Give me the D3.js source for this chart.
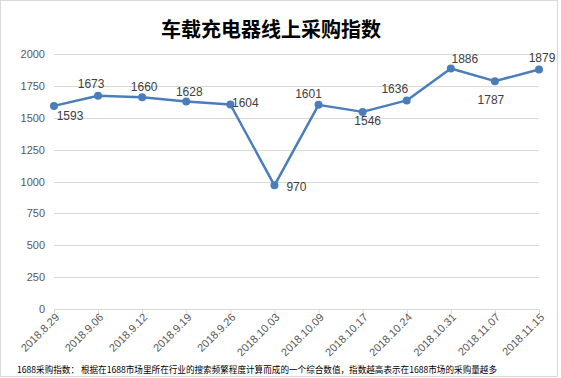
<!DOCTYPE html>
<html><head><meta charset="utf-8">
<script src="https://cdn.jsdelivr.net/npm/d3@7/dist/d3.min.js"></script>
<style>body{margin:0;background:#fff}svg{display:block}</style>
</head><body>
<script>
const title = "车载充电器线上采购指数";
const categories = ["2018.8.29","2018.9.06","2018.9.12","2018.9.19","2018.9.26","2018.10.03","2018.10.09","2018.10.17","2018.10.24","2018.10.31","2018.11.07","2018.11.15"];
const values = [1593,1673,1660,1628,1604,970,1601,1546,1636,1886,1787,1879];
const yTicks = [0,250,500,750,1000,1250,1500,1750,2000];
const footnote = "1688采购指数：  根据在1688市场里所在行业的搜索频繁程度计算而成的一个综合数值，指数越高表示在1688市场的采购量越多";
// label placement (style): offset of label center from point
const labelOffsets = [[16,10],[-7,-12],[2,-11],[3,-10],[15,-2],[22,1],[-10,-11],[5,9],[-12,-12],[14,-10],[-4,19],[3,-12]];

const W = 561, H = 378;
const svg = d3.select("body").append("svg").attr("width", W).attr("height", H);
const font = "'Liberation Sans','DejaVu Sans',Arial,sans-serif";

svg.append("rect").attr("x",0.5).attr("y",0.5).attr("width",557).attr("height",376)
  .attr("fill","#fff").attr("stroke","#d9d9d9");

const x = d3.scalePoint().domain(categories).range([54, 539]);
const y = d3.scaleLinear().domain([0, 2000]).range([309, 54]);

svg.append("text").attr("x", 271).attr("y", 37).attr("text-anchor","middle")
  .attr("font-family","'Noto Sans CJK SC',sans-serif").attr("font-weight","bold")
  .attr("font-size", 20).attr("fill","#000").text(title);

// gridlines
svg.append("g").selectAll("line").data(yTicks.filter(d=>d>0)).join("line")
  .attr("x1",54).attr("x2",539).attr("y1",d=>Math.round(y(d))+0.5).attr("y2",d=>Math.round(y(d))+0.5)
  .attr("stroke","#d9d9d9").attr("stroke-width",1);

// y axis labels
const yAxis = d3.axisLeft(y).tickValues(yTicks).tickFormat(d3.format("d")).tickSize(0).tickPadding(0);
const gy = svg.append("g").attr("transform","translate(45,0)").call(yAxis);
gy.select(".domain").remove();
gy.selectAll("text").attr("font-family",font).attr("font-size",11).attr("fill","#595959");

// x axis
const xAxis = d3.axisBottom(x).tickSize(5).tickSizeOuter(0).tickFormat("");
const gx = svg.append("g").attr("transform",`translate(0,${Math.round(y(0))+0.5})`).call(xAxis);
gx.select(".domain").attr("stroke","#d9d9d9").attr("d","M54,0H539");
gx.selectAll(".tick line").attr("stroke","#d9d9d9");
svg.append("g").selectAll("text").data(categories).join("text")
  .attr("transform", d => `translate(${x(d)+6},${Math.round(y(0))+9}) rotate(-45)`)
  .attr("text-anchor","end").attr("font-family",font).attr("font-size",11)
  .attr("fill","#595959").text(d=>d);

// line
const line = d3.line().x((d,i)=>x(categories[i])).y(d=>y(d));
svg.append("path").datum(values).attr("d", line).attr("fill","none")
  .attr("stroke","#4a7ebb").attr("stroke-width",2.5).attr("stroke-linejoin","round");
svg.append("g").selectAll("circle").data(values).join("circle")
  .attr("cx",(d,i)=>x(categories[i])).attr("cy",d=>y(d)).attr("r",4).attr("fill","#4a7ebb");

// data labels
svg.append("g").selectAll("text").data(values).join("text")
  .attr("x",(d,i)=>x(categories[i])+labelOffsets[i][0])
  .attr("y",(d,i)=>y(d)+labelOffsets[i][1])
  .attr("dy","0.35em").attr("text-anchor","middle")
  .attr("font-family",font).attr("font-size",12).attr("fill","#404040").text(d=>d);

// footnote
svg.append("text").attr("x",17).attr("y",373).attr("font-family","'Noto Sans CJK SC',sans-serif")
  .attr("font-size",9).attr("fill","#000").attr("textLength",480).attr("lengthAdjust","spacingAndGlyphs")
  .text(footnote);
</script>
</body></html>
